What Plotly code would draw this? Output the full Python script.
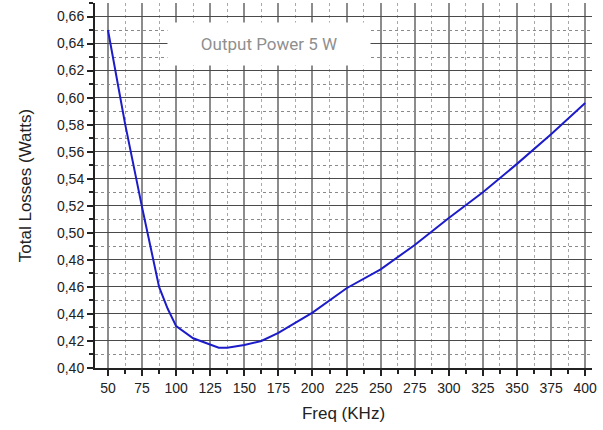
import plotly.graph_objects as go

# Total losses vs switching frequency at 5 W output
freq_khz = [50, 62.5, 75, 87.5, 93.75, 100, 112.5, 125, 131.25, 137.5, 150, 162.5,
            175, 200, 212.5, 225, 250, 275, 300, 325, 350, 375, 400]
losses_w = [0.650, 0.581, 0.519, 0.460, 0.444, 0.431, 0.422, 0.417, 0.415, 0.415, 0.417, 0.420,
            0.426, 0.441, 0.450, 0.459, 0.473, 0.491, 0.511, 0.530, 0.551, 0.573, 0.596]

x_ticks = list(range(50, 401, 25))
y_ticks = [round(0.40 + 0.02 * i, 2) for i in range(14)]

fig = go.Figure()
fig.add_trace(go.Scatter(
    x=freq_khz, y=losses_w, mode="lines",
    line=dict(color="#1c1cc8", width=2),
    hoverinfo="x+y",
))

fig.add_annotation(
    x=168, y=0.640, xref="x", yref="y",
    text="Output Power 5 W", showarrow=False,
    font=dict(family="Roboto", size=17, color="#8f8f8f"),
    bgcolor="white", width=200, height=40,
)

fig.update_layout(
    width=603, height=430,
    margin=dict(l=95, r=11, t=3, b=62),
    paper_bgcolor="white", plot_bgcolor="white",
    separators=",.",
    showlegend=False,
    font=dict(family="Liberation Sans, Arial, sans-serif", size=14, color="#222"),
)

fig.update_xaxes(
    range=[40.5, 405], tickvals=x_ticks, ticks="outside", ticklen=6, tickwidth=1.5,
    tickcolor="#222", showline=True, linecolor="#222", linewidth=2,
    showgrid=True, gridcolor="#8c8c8c", gridwidth=1.5,
    minor=dict(dtick=12.5, tick0=37.5, ticks="outside", ticklen=4, tickcolor="#222",
               showgrid=True, gridcolor="#a8a8a8", griddash="dot", gridwidth=1),
    title=dict(text="Freq (KHz)", font=dict(size=17, color="#222"), standoff=12),
    zeroline=False, mirror=False,
)
fig.update_yaxes(
    range=[0.40, 0.670], tickvals=y_ticks, tickformat=".2f", ticks="outside", ticklen=6,
    tickwidth=1.5, tickcolor="#222", showline=True, linecolor="#222", linewidth=2,
    showgrid=True, gridcolor="#4a4a4a", gridwidth=1,
    minor=dict(dtick=0.01, tick0=0.39, ticks="outside", ticklen=4, tickcolor="#222",
               showgrid=True, gridcolor="#8a8a8a", griddash="dot", gridwidth=1),
    title=dict(text="Total Losses (Watts)", font=dict(size=17, color="#222"), standoff=21),
    zeroline=False, mirror=False,
)

fig.write_html("out.html")
